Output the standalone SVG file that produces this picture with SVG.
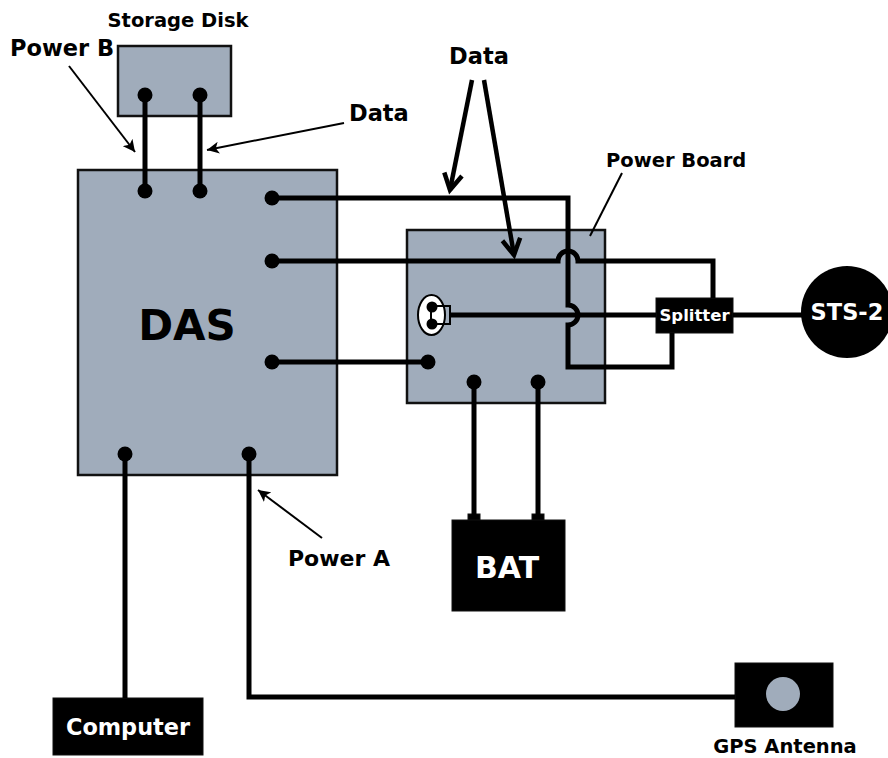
<svg xmlns="http://www.w3.org/2000/svg" width="888" height="758" viewBox="0 0 888 758">
<style>
.box{fill:#a0acbb;stroke:#111;stroke-width:2.5}
.blk{fill:#000;stroke:#111;stroke-width:1}
.w{fill:none;stroke:#000;stroke-width:5;stroke-linejoin:miter}
.dot{fill:#000}
.lbl{font-family:"DejaVu Sans",sans-serif;font-weight:bold;fill:#000}
.wl{font-family:"DejaVu Sans",sans-serif;font-weight:bold;fill:#fff}
.thin{fill:none;stroke:#000;stroke-width:2}
.thick{fill:none;stroke:#000;stroke-width:4.5}
</style>
<defs>
<marker id="ah" markerUnits="userSpaceOnUse" markerWidth="16" markerHeight="12" refX="12" refY="6" orient="auto">
<path d="M0,0 L12,6 L0,12 L3,6 Z" fill="#000"/>
</marker>
<marker id="ahb" markerUnits="userSpaceOnUse" markerWidth="24" markerHeight="24" refX="18" refY="12" orient="auto">
<path d="M2,3 L18,12 L2,21" fill="none" stroke="#000" stroke-width="4.5" stroke-linejoin="miter"/>
</marker>
</defs>

<g id="storage-disk">
<rect class="box" x="118" y="46" width="113" height="70"/>
<text class="lbl" x="178" y="27" font-size="19.5" text-anchor="middle">Storage Disk</text>
<circle class="dot" cx="145" cy="95" r="7.5"/>
<circle class="dot" cx="200" cy="95" r="7.5"/>
</g>

<g id="das">
<rect class="box" x="78" y="170" width="259" height="305"/>
<text class="lbl" x="187" y="340" font-size="42" text-anchor="middle">DAS</text>
<circle class="dot" cx="145" cy="191" r="7.5"/>
<circle class="dot" cx="200" cy="191" r="7.5"/>
<circle class="dot" cx="272" cy="198" r="7.5"/>
<circle class="dot" cx="272" cy="261" r="7.5"/>
<circle class="dot" cx="272" cy="362" r="7.5"/>
<circle class="dot" cx="125" cy="454" r="7.5"/>
<circle class="dot" cx="249" cy="454" r="7.5"/>
</g>

<g id="power-board">
<rect class="box" x="407" y="230" width="198" height="173"/>
<circle class="dot" cx="428" cy="362" r="7.5"/>
<circle class="dot" cx="474" cy="382" r="7.5"/>
<circle class="dot" cx="538" cy="382" r="7.5"/>
<ellipse cx="431.5" cy="315" rx="13.5" ry="20" fill="#fff" stroke="#000" stroke-width="2"/>
<rect x="431" y="306" width="19" height="18" fill="none" stroke="#000" stroke-width="2"/>
<circle class="dot" cx="432" cy="307" r="5.5"/>
<circle class="dot" cx="432" cy="324" r="5.5"/>
</g>

<g id="splitter">
<rect class="blk" x="656" y="298" width="77" height="35"/>
<text class="wl" x="694.5" y="321" font-size="16.5" text-anchor="middle">Splitter</text>
</g>

<g id="sts-2">
<circle cx="847" cy="312" r="46" fill="#000"/>
<text class="wl" x="847" y="320" font-size="22.5" text-anchor="middle">STS-2</text>
</g>

<g id="bat">
<rect class="blk" x="468" y="514" width="12" height="8"/>
<rect class="blk" x="532" y="514" width="12" height="8"/>
<rect class="blk" x="452" y="520" width="113" height="91"/>
<text class="wl" x="507" y="578" font-size="30" text-anchor="middle">BAT</text>
</g>

<g id="computer">
<rect class="blk" x="53" y="698" width="150" height="57"/>
<text class="wl" x="128" y="735" font-size="22.4" text-anchor="middle">Computer</text>
</g>

<g id="gps-antenna">
<rect class="blk" x="735" y="663" width="98" height="64"/>
<circle cx="783" cy="694" r="17" fill="#a0acbb"/>
<text class="lbl" x="785" y="753" font-size="19.5" text-anchor="middle">GPS Antenna</text>
</g>

<g id="connectors">
<line class="w" x1="145" y1="95" x2="145" y2="191"/>
<line class="w" x1="200" y1="95" x2="200" y2="191"/>
<path class="w" d="M272,198 H568 V305 A10,10 0 0 1 568,325 V367 H672 V333"/>
<path class="w" d="M272,261 H558 A10,10 0 0 1 578,261 H713 V298"/>
<line class="w" x1="450" y1="315" x2="656" y2="315"/>
<line class="w" x1="733" y1="315" x2="802" y2="315"/>
<line class="w" x1="272" y1="362" x2="428" y2="362"/>
<line class="w" x1="474" y1="382" x2="474" y2="515"/>
<line class="w" x1="538" y1="382" x2="538" y2="515"/>
<line class="w" x1="125" y1="454" x2="125" y2="698"/>
<path class="w" d="M249,454 V697 H735"/>
</g>

<g id="labels">
<text class="lbl" x="10" y="56" font-size="22.5">Power B</text>
<line class="thin" x1="69" y1="66" x2="135" y2="152" marker-end="url(#ah)"/>
<text class="lbl" x="349" y="121" font-size="22.5">Data</text>
<line class="thin" x1="344" y1="123" x2="207" y2="150" stroke-width="3" marker-end="url(#ah)"/>
<text class="lbl" x="479" y="64" font-size="22.5" text-anchor="middle">Data</text>
<line class="thick" x1="472" y1="80" x2="450" y2="190" stroke-width="3.5" marker-end="url(#ahb)"/>
<line class="thick" x1="484" y1="80" x2="514" y2="255" marker-end="url(#ahb)"/>
<text class="lbl" x="606" y="167" font-size="19.5">Power Board</text>
<line class="thin" x1="622" y1="173" x2="590" y2="236" stroke-width="2.5"/>
<text class="lbl" x="288" y="566" font-size="22">Power A</text>
<line class="thin" x1="322" y1="538" x2="258" y2="490" marker-end="url(#ah)"/>
</g>
</svg>
